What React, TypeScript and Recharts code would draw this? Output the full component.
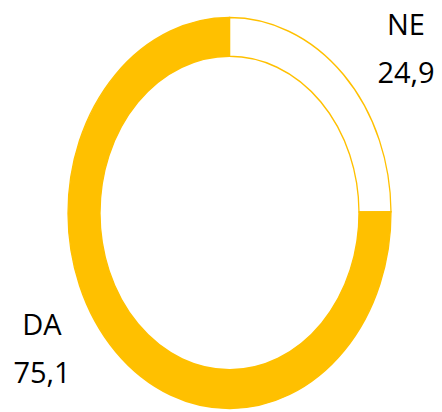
import React from 'react';
import { PieChart, Pie, Cell } from 'recharts';

const categories = ['NE', 'DA'];
const values = [24.9, 75.1];
const valueLabels = ['24,9', '75,1'];

const GOLD = '#FFC000';
const fills = ['#FFFFFF', GOLD];
const S = 1.21; // vertical stretch of the ellipse

const data = categories.map((c, i) => ({ name: c, value: values[i], text: valueLabels[i] }));

// label offsets (screen px) relative to pie centre
const labelDx = [176.5, -187.5];
const labelDy = [[-178, -130], [122, 170]];

const renderLabel = (p: any) => {
  const { cx, cy, index } = p;
  const x = cx + labelDx[index];
  const lines = [data[index].name, data[index].text];
  return (
    <g>
      {lines.map((t, i) => (
        <text
          key={i}
          transform={`translate(${x},${cy + labelDy[index][i] / S}) scale(1,${1 / S})`}
          textAnchor="middle"
          fill="#000"
          style={{ fontFamily: '"Open Sans", sans-serif', fontSize: 29, fontWeight: 500 }}
        >
          {t}
        </text>
      ))}
    </g>
  );
};

export default function App() {
  return (
    <div style={{ position: 'absolute', left: 0, top: 0, width: 442, height: 412, background: '#fff', overflow: 'hidden' }}>
      <div style={{ width: 442, height: 412, transform: `scaleY(${S})`, transformOrigin: '0px 213px' }}>
        <PieChart width={442} height={412} margin={{ top: 0, right: 0, bottom: 0, left: 0 }}>
          <Pie
            data={data}
            dataKey="value"
            nameKey="name"
            cx={229.5}
            cy={213}
            outerRadius={161.5}
            innerRadius={129.5}
            startAngle={90}
            endAngle={-270}
            stroke={GOLD}
            strokeWidth={1.3}
            label={renderLabel}
            labelLine={false}
            isAnimationActive={false}
          >
            {data.map((d, i) => (
              <Cell key={d.name} fill={fills[i]} stroke={GOLD} />
            ))}
          </Pie>
        </PieChart>
      </div>
    </div>
  );
}
